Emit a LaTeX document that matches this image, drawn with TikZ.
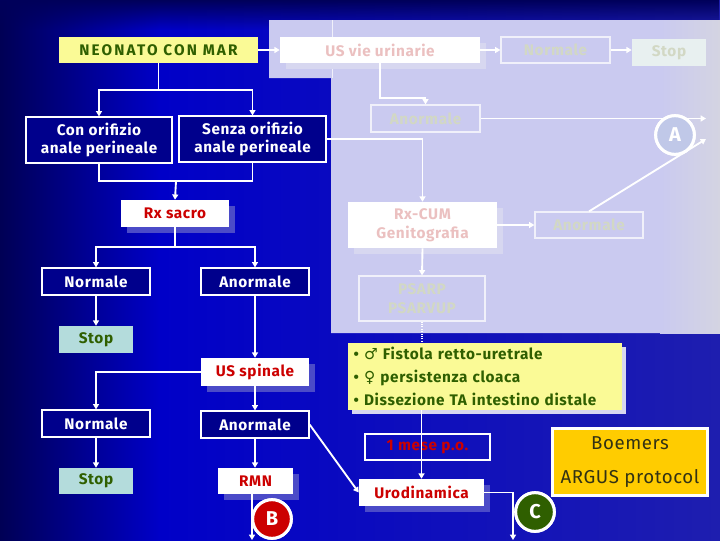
\documentclass[tikz,border=0pt]{standalone}
\usepackage{fontspec}
\setmainfont{Fira Sans}
\newfontfamily\symfont{DejaVu Sans}
\usetikzlibrary{arrows.meta,shadows,fadings}
\tikzfading[name=fadedown, top color=transparent!0, bottom color=transparent!100]
\definecolor{bgdark}{RGB}{0,0,85}
\definecolor{bgmid}{RGB}{0,0,200}
\definecolor{bgright}{RGB}{30,30,175}
\definecolor{topnavy}{RGB}{0,0,90}
\definecolor{lav}{RGB}{202,202,240}
\definecolor{lavgray}{RGB}{212,212,226}
\definecolor{boxnavy}{RGB}{0,0,140}
\definecolor{redtxt}{RGB}{204,0,0}
\definecolor{greentxt}{RGB}{47,95,0}
\definecolor{yel}{RGB}{250,250,150}
\definecolor{stopfill}{RGB}{180,220,220}
\definecolor{fadetxt}{RGB}{210,216,196}
\definecolor{pinktxt}{RGB}{235,192,192}
\definecolor{fadeline}{RGB}{240,240,250}
\definecolor{stoplight}{RGB}{232,240,240}
\definecolor{shadowblue}{RGB}{75,75,200}
\definecolor{shadowlav}{RGB}{215,215,240}
\definecolor{gold}{RGB}{255,204,0}
\definecolor{oliv}{RGB}{50,50,20}
\definecolor{circA}{RGB}{192,200,232}
\begin{document}
\begin{tikzpicture}[x=0.75pt,y=-0.75pt,
  base/.style={inner sep=0pt, align=center, font=\bfseries\fontsize{11.5}{14}\selectfont\addfontfeature{LetterSpace=4}},
  navybox/.style={base, draw=white, line width=0.9pt, fill=boxnavy, text=white},
  whitebox/.style={base, fill=white, text=redtxt, general shadow={fill=#1, shadow xshift=4.5pt, shadow yshift=-4.5pt}},
  stopbox/.style={base, fill=stopfill, text=greentxt},
  fadebox/.style={base, draw=fadeline, line width=0.9pt, text=fadetxt},
  conn/.style={draw=white, line width=1.4pt},
  arr/.style={conn, -{Triangle[width=4.5pt,length=4pt]}},
  letter/.style={circle, draw=white, line width=2.25pt, minimum size=29pt, inner sep=0pt, text=white, font=\bfseries\fontsize{15}{17}\selectfont}
]
\useasboundingbox (0,0) rectangle (720,540);
% background
\shade[left color=bgdark, right color=bgmid] (0,0) rectangle (160,540);
\shade[left color=bgmid, right color=bgright] (159.5,0) rectangle (720,540);
\fill[topnavy, path fading=fadedown] (0,0) rectangle (720,30);
% lavender overlay
\fill[lav] (269,20) -- (720,20) -- (720,333) -- (331,333) -- (331,78) -- (269,78) -- cycle;
\shade[left color=lav, right color=lavgray] (660,20) rectangle (720,333);
\draw[fadeline, line width=0.6pt] (332,20) -- (332,78);

% nodes
\node[base, fill=yel, text=greentxt, minimum width=149.25pt, minimum height=19.5pt,
  font=\bfseries\fontsize{11.5}{14}\selectfont\addfontfeature{LetterSpace=14}] (neo) at (158.5,50) {NEONATO CON MAR};
\node[whitebox=shadowlav, text=pinktxt, minimum width=150pt, minimum height=19.5pt] (usv) at (380,50) {US vie urinarie};
\node[fadebox, minimum width=81.75pt, minimum height=19.5pt] (nor1) at (555.5,50) {Normale};
\node[base, fill=stoplight, text=fadetxt, minimum width=55.5pt, minimum height=20.25pt] (stop1) at (669,52.5) {Stop};
\node[fadebox, minimum width=81.75pt, minimum height=20.25pt] (ano1) at (425.5,118.5) {Anormale};
\node[letter, fill=circA] (cA) at (675,135) {A};

\node[navybox, minimum width=109.5pt, minimum height=34.5pt] (con) at (99,140) {Con orifizio\\anale perineale};
\node[navybox, minimum width=110.25pt, minimum height=34.5pt] (senza) at (252.5,139) {Senza orifizio\\anale perineale};

\node[whitebox=shadowblue, minimum width=81pt, minimum height=20.25pt] (rxs) at (175,213.5) {Rx sacro};
\node[navybox, minimum width=81pt, minimum height=20.25pt] (nor2) at (96,281.5) {Normale};
\node[navybox, minimum width=81pt, minimum height=20.25pt] (ano2) at (255,281.5) {Anormale};
\node[stopbox, minimum width=55.5pt, minimum height=20.25pt] (stop2) at (96,339.5) {Stop};
\node[whitebox=shadowblue, minimum width=81pt, minimum height=21pt] (uss) at (255,372) {US spinale};
\node[navybox, minimum width=81pt, minimum height=20.25pt] (nor3) at (96,423.5) {Normale};
\node[navybox, minimum width=81pt, minimum height=20.25pt] (ano3) at (255,424.5) {Anormale};
\node[stopbox, minimum width=55.5pt, minimum height=19.5pt] (stop3) at (96,481) {Stop};
\node[whitebox=shadowblue, minimum width=56.25pt, minimum height=19.5pt] (rmn) at (255.5,481) {RMN};
\node[letter, fill=redtxt] (cB) at (272,519) {B};

\node[whitebox=shadowlav, text=pinktxt, minimum width=111.75pt, minimum height=34.5pt] (rxcum) at (422.5,225) {Rx-CUM\\Genitografia};
\node[fadebox, minimum width=81pt, minimum height=19.5pt] (ano4) at (589,225) {Anormale};
\node[fadebox, minimum width=94.5pt, minimum height=33.75pt] (psarp) at (422,298.5) {PSARP\\PSARVUP};

\node[base, fill=yel, text=greentxt, align=left, minimum width=205.5pt, minimum height=50.25pt, text width=197pt,
  font=\bfseries\fontsize{11.5}{17}\selectfont\addfontfeature{LetterSpace=4},
  general shadow={fill=shadowlav, shadow xshift=3pt, shadow yshift=-3pt}] (bul) at (485,376.5)
  {\textbullet\ {\symfont\mdseries ♂} Fistola retto-uretrale\\ \textbullet\ {\symfont\mdseries ♀} persistenza cloaca\\ \textbullet\ Dissezione TA intestino distale};

\node[base, draw=white, line width=0.9pt, text=redtxt, minimum width=93.75pt, minimum height=19.5pt] (mese) at (427.5,447) {1 mese p.o.};
\node[whitebox=shadowblue, minimum width=93.75pt, minimum height=20.25pt] (uro) at (421.5,492.5) {Urodinamica};
\node[letter, fill=greentxt] (cC) at (535,512) {C};

\node[base, draw=white, line width=2.25pt, fill=gold, text=oliv, minimum width=116.25pt, minimum height=50.25pt,
  font=\mdseries\fontsize{14}{25}\selectfont\addfontfeature{LetterSpace=3}] (boem) at (630,462) {Boemers\\ARGUS protocol};

% free ends
\coordinate (aEnd1) at (706,118.5);
\coordinate (aEnd2) at (706,139);
\coordinate (j1) at (176,181);
\coordinate (bEnd) at (252,540);
\coordinate (cEnd) at (513,540);

% connectors
\draw[arr] (neo) -- (usv);
\draw[arr] (usv) -- (nor1);
\draw[arr] (nor1.east) -- (nor1.east -| stop1.west);
\draw[arr] (usv.south) -- ++(0,35) -| (ano1.north);
\draw[arr] (ano1.east) -- (aEnd1);
\draw[arr] (ano4.north) -- (aEnd2);

\draw[conn] (neo.south) -- ++(0,27) coordinate (j0);
\draw[arr] (j0) -| (con.north);
\draw[arr] (j0) -| (senza.north);
\draw[arr] (senza.east) -| (rxcum.north);
\draw[conn] (con.south) |- (j1);
\draw[conn] (senza.south) |- (j1);
\draw[arr] (j1) -- (rxs.north);

\draw[conn] (rxs.south) -- ++(0,20) coordinate (j2);
\draw[arr] (j2) -| (nor2.north);
\draw[arr] (j2) -| (ano2.north);
\draw[arr] (nor2) -- (stop2);
\draw[arr] (ano2) -- (uss);
\draw[arr] (uss.west) -| (nor3.north);
\draw[arr] (uss) -- (ano3);
\draw[arr] (nor3) -- (stop3);
\draw[arr] (ano3.south) -- (ano3.south |- rmn.north);
\draw[arr] (rmn.south -| bEnd) -- (bEnd);
\draw[arr] (ano3.east) -- (uro.west);

\draw[arr] (rxcum) -- (ano4);
\draw[arr] (rxcum.south) -- (psarp.north);
\draw[conn, line width=0.8pt, densely dotted] (psarp.south) -- (psarp.south |- bul.north);
\draw[arr] (bul.south -| uro.north) -- (uro.north);
\draw[arr] (uro.east) -| (cEnd);

% redraw letters on top of lines
\node[letter, fill=circA] at (cA) {A};
\node[letter, fill=redtxt] at (cB) {B};
\node[letter, fill=greentxt] at (cC) {C};
\end{tikzpicture}
\end{document}
